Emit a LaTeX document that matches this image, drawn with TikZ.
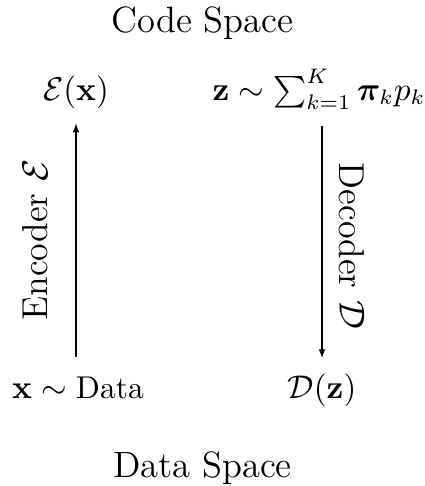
\documentclass[tikz,border=0pt]{standalone}
\usepackage{amsmath,amssymb,bm}
\usetikzlibrary{arrows.meta}
\begin{document}
\begin{tikzpicture}[x=0.3333pt,y=-0.3333pt,
  title/.style={font=\fontsize{12.2}{14}\selectfont, anchor=base},
  mnode/.style={font=\fontsize{10.5}{13}\selectfont, anchor=base},
  side/.style={font=\fontsize{12}{14}\selectfont},
  arr/.style={-{Latex[length=3pt,width=2.2pt]}, line width=0.4pt}]
\useasboundingbox (0,0) rectangle (425,486);
\node[title] (cs) at (202.5,32) {Code Space};
\node[title] (ds) at (202.5,477) {Data Space};
\node[mnode] (ex) at (76,100) {$\mathcal{E}(\mathbf{x})$};
\node[mnode] (z) at (319,100) {$\mathbf{z}\sim\sum_{k=1}^{K}\bm{\pi}_k p_k$};
\node[mnode] (xd) at (78,398) {$\mathbf{x}\sim\text{Data}$};
\node[mnode] (dz) at (322,398) {$\mathcal{D}(\mathbf{z})$};
\draw[arr, shorten <=3pt, shorten >=1.5pt] (xd.north -| ex.south) -- (ex.south);
\draw[arr, shorten <=2pt, shorten >=1.5pt] (z.south -| dz.north) -- (dz.north);
\node[side, rotate=90] (enc) at (35,240) {Encoder $\mathcal{E}$};
\node[side, rotate=-90] (dec) at (352,246) {Decoder $\mathcal{D}$};
\end{tikzpicture}
\end{document}
